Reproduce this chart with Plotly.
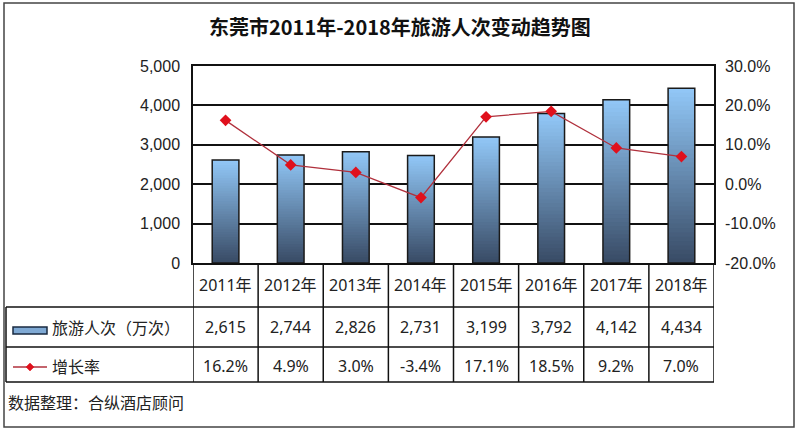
import plotly.graph_objects as go

years = ["2011年", "2012年", "2013年", "2014年", "2015年", "2016年", "2017年", "2018年"]
visitors = [2615, 2744, 2826, 2731, 3199, 3792, 4142, 4434]
growth = [16.2, 4.9, 3.0, -3.4, 17.1, 18.5, 9.2, 7.0]
visitor_labels = ["2,615", "2,744", "2,826", "2,731", "3,199", "3,792", "4,142", "4,434"]
growth_labels = ["16.2%", "4.9%", "3.0%", "-3.4%", "17.1%", "18.5%", "9.2%", "7.0%"]
y_ticks = [0, 1000, 2000, 3000, 4000, 5000]
y_ticklabels = ["0", "1,000", "2,000", "3,000", "4,000", "5,000"]
y2_ticks = [-20, -10, 0, 10, 20, 30]
y2_ticklabels = ["-20.0%", "-10.0%", "0.0%", "10.0%", "20.0%", "30.0%"]
title_text = "东莞市2011年-2018年旅游人次变动趋势图"
series1_name = "旅游人次（万次）"
series2_name = "增长率"
source_text = "数据整理：合纵酒店顾问"

W, H = 800, 433
L, R, T, B = 193, 714, 66, 263
def px(x):
    return (x - L) / (R - L)
def py(y):
    return (B - y) / (B - T)

top_rgb = (146, 200, 248)
bot_rgb = (56, 74, 100)
def mix(t):
    return "rgb(%d,%d,%d)" % tuple(round(b + (a - b) * t) for a, b in zip(top_rgb, bot_rgb))

xs = list(range(len(years)))
fig = go.Figure()
N = 40
for k in range(N):
    h = 1.0 if k == N - 1 else 1.8
    fig.add_trace(go.Bar(
        x=xs, y=[v * h / N for v in visitors], base=[v * k / N for v in visitors],
        width=0.41, marker=dict(color=mix((k + 0.5) / N), line=dict(width=0)),
        showlegend=False, hoverinfo="skip"))
fig.add_trace(go.Bar(
    x=xs, y=visitors, width=0.41, name=series1_name,
    marker=dict(color="rgba(0,0,0,0)", line=dict(color="#1a1a1a", width=1.5)),
    showlegend=False))
fig.add_trace(go.Scatter(
    x=xs, y=growth, yaxis="y2", mode="lines+markers", name=series2_name,
    line=dict(color="#b0303c", width=1.3),
    marker=dict(symbol="diamond", size=9, color="#e0101c"),
    showlegend=False))

font_tick = dict(family="Liberation Sans, Arial", size=16, color="#222")
fig.update_layout(
    width=W, height=H, barmode="overlay",
    margin=dict(l=L, r=W - R, t=T, b=H - B),
    paper_bgcolor="white", plot_bgcolor="white",
    xaxis=dict(range=[-0.5, len(years) - 0.5], tickvals=xs, ticktext=years,
               showticklabels=False, showgrid=False, zeroline=False,
               showline=True, linecolor="#111", linewidth=1.5, mirror=True, fixedrange=True),
    yaxis=dict(range=[0, 5000], tickvals=y_ticks, ticktext=y_ticklabels, tickfont=font_tick,
               showgrid=True, gridcolor="#111", gridwidth=1.5, zeroline=False,
               showline=True, linecolor="#111", linewidth=1.5, mirror=True,
               ticks="", ticklabelstandoff=8),
    yaxis2=dict(range=[-20, 30], tickvals=y2_ticks, ticktext=y2_ticklabels, tickfont=font_tick,
                overlaying="y", side="right", showgrid=False, zeroline=False,
                showline=False, ticks="", ticklabelstandoff=10),
    font=dict(family="Noto Sans, Noto Sans CJK SC"),
)

shapes = []
ann = []
line_c = "#111"
# outer border
shapes.append(dict(type="rect", xref="paper", yref="paper", x0=px(4), x1=px(794), y0=py(427), y1=py(3),
                   line=dict(color="#444", width=1.5), layer="below"))
# table horizontal lines
for yy in [307, 347, 382]:
    shapes.append(dict(type="line", xref="paper", yref="paper", x0=px(6), x1=px(R), y0=py(yy), y1=py(yy),
                       line=dict(color=line_c, width=1.5)))
# table vertical lines
shapes.append(dict(type="line", xref="paper", yref="paper", x0=px(6), x1=px(6), y0=py(307), y1=py(382),
                   line=dict(color=line_c, width=1.5)))
for i in range(len(years) + 1):
    shapes.append(dict(type="line", xref="x", yref="paper", x0=i - 0.5, x1=i - 0.5, y0=py(263), y1=py(382),
                       line=dict(color=line_c, width=1.5)))
# legend symbols
shapes.append(dict(type="rect", xref="paper", yref="paper", x0=px(13), x1=px(47), y0=py(334), y1=py(327),
                   line=dict(color="#1a2a40", width=1.5), fillcolor="#7fa9d4"))
shapes.append(dict(type="line", xref="paper", yref="paper", x0=px(13), x1=px(47), y0=py(367), y1=py(367),
                   line=dict(color="#b0303c", width=1.3)))
shapes.append(dict(type="path", xref="paper", yref="paper",
                   path="M %f,%f L %f,%f L %f,%f L %f,%f Z" % (px(30), py(363), px(34), py(367), px(30), py(371), px(26), py(367)),
                   fillcolor="#e0101c", line=dict(color="#e0101c", width=0.5)))

table_font = dict(family="Noto Sans, Noto Sans CJK SC", size=16, color="#222")
for i in xs:
    ann.append(dict(x=i, y=py(285), xref="x", yref="paper", yanchor="middle", text=years[i],
                    showarrow=False, font=table_font))
    ann.append(dict(x=i, y=py(327), xref="x", yref="paper", yanchor="middle", text=visitor_labels[i],
                    showarrow=False, font=table_font))
    ann.append(dict(x=i, y=py(366), xref="x", yref="paper", yanchor="middle", text=growth_labels[i],
                    showarrow=False, font=table_font))
ann.append(dict(x=px(50), y=py(328), xref="paper", yref="paper", text=series1_name, showarrow=False,
                xanchor="left", yanchor="middle", font=table_font))
ann.append(dict(x=px(50), y=py(367), xref="paper", yref="paper", text=series2_name, showarrow=False,
                xanchor="left", yanchor="middle", font=table_font))
ann.append(dict(x=px(6), y=py(403), xref="paper", yref="paper", text=source_text, showarrow=False,
                xanchor="left", yanchor="middle", font=table_font))
ann.append(dict(x=px(400), y=py(27), xref="paper", yref="paper", text="<b>" + title_text + "</b>", showarrow=False,
                xanchor="center", yanchor="middle",
                font=dict(family="Noto Sans CJK SC", size=20, color="#111")))

fig.update_layout(shapes=shapes, annotations=ann)
fig.write_html("out.html", config={"displayModeBar": False},
               post_script="document.body.style.margin='0px';")
